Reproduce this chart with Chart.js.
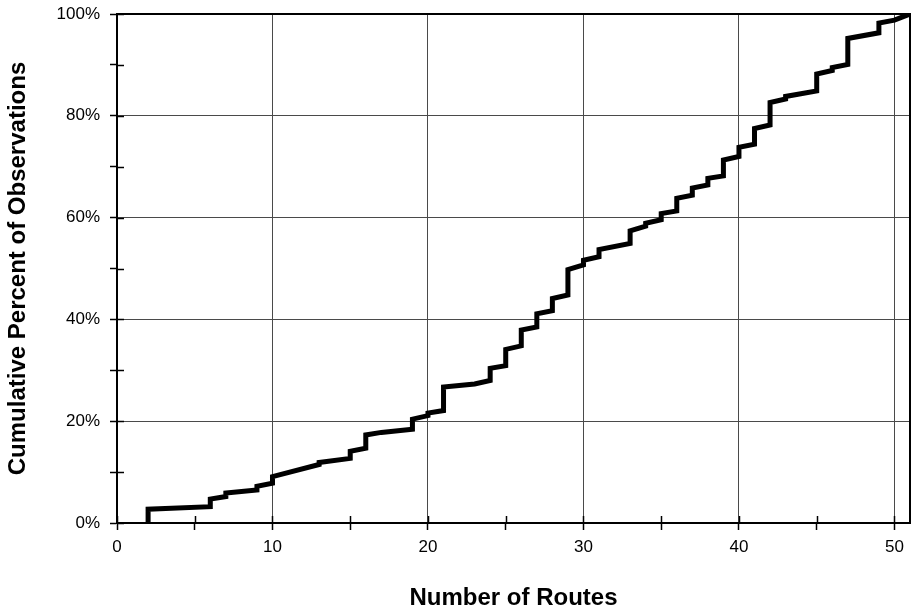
<!DOCTYPE html>
<html>
<head>
<meta charset="utf-8">
<script src="https://cdn.jsdelivr.net/npm/chart.js@4"></script>
<style>
  body { margin: 0; background: #fff; }
  #wrap { width: 916px; height: 614px; position: relative; }
</style>
</head>
<body>
<div id="wrap"><canvas id="chart"></canvas></div>
<script>
// vertices of the cumulative curve
const routes = [2, 2, 6, 6, 7, 7, 9, 9, 10, 10, 13, 13, 15, 15, 16, 16, 17, 19, 19, 20, 20, 21, 21, 23,
  24, 24, 25, 25, 26, 26, 27, 27, 28, 28, 29, 29, 30, 30, 31, 31, 33, 33, 34, 34, 35, 35, 36, 36,
  37, 37, 38, 38, 39, 39, 40, 40, 41, 41, 42, 42, 43, 43, 45, 45, 46, 46, 47, 47, 49, 49, 50, 51];
const cumulativePct = [0, 2.7, 3.2, 4.7, 5.2, 5.9, 6.5, 7.2, 7.8, 9.1, 11.5, 11.9, 12.7, 14.1, 14.7, 17.3, 17.8, 18.4, 20.4, 21.1, 21.6, 22.1, 26.7, 27.3,
  28.0, 30.4, 30.9, 34.1, 34.8, 37.9, 38.5, 41.1, 41.7, 44.1, 44.8, 49.8, 50.7, 51.6, 52.3, 53.7, 54.9, 57.4, 58.3, 58.9, 59.6, 60.8, 61.3, 63.8,
  64.4, 65.8, 66.4, 67.7, 68.2, 71.3, 72.0, 73.8, 74.4, 77.5, 78.2, 82.6, 83.3, 83.8, 84.9, 88.2, 88.9, 89.5, 90.1, 95.2, 96.3, 98.2, 98.8, 100];

const xTitle = 'Number of Routes';
const yTitle = 'Cumulative Percent of Observations';

const points = routes.map((r, i) => ({ x: r, y: cumulativePct[i] }));

// frame on top/right plus the inner half of each tick mark
const framePlugin = {
  id: 'frame',
  beforeDatasetsDraw(chart) {
    const { ctx, chartArea: a, scales } = chart;
    ctx.save();
    ctx.strokeStyle = '#000';
    ctx.lineWidth = 2;
    ctx.beginPath();
    ctx.moveTo(a.left, a.top);
    ctx.lineTo(a.right, a.top);
    ctx.lineTo(a.right, a.bottom);
    ctx.stroke();

    ctx.lineWidth = 1.5;
    ctx.beginPath();
    scales.x.ticks.forEach(t => {
      const px = Math.round(scales.x.getPixelForValue(t.value)) + 0.5;
      ctx.moveTo(px, a.bottom);
      ctx.lineTo(px, a.bottom - 7);
    });
    scales.y.ticks.forEach(t => {
      const py = Math.round(scales.y.getPixelForValue(t.value)) + 0.5;
      ctx.moveTo(a.left, py);
      ctx.lineTo(a.left + 7, py);
    });
    ctx.stroke();
    ctx.restore();
  }
};

Chart.defaults.font.family = "'Liberation Sans', Arial, sans-serif";
Chart.defaults.color = '#000';

new Chart(document.getElementById('chart'), {
  type: 'scatter',
  data: {
    datasets: [{
      data: points,
      showLine: true,
      borderColor: '#000',
      borderWidth: 5,
      borderJoinStyle: 'miter',
      pointRadius: 0,
      pointHoverRadius: 0,
      tension: 0,
    }]
  },
  options: {
    responsive: true,
    maintainAspectRatio: false,
    animation: false,
    layout: { padding: { top: 14, right: 6, left: 0, bottom: 0 } },
    plugins: {
      legend: { display: false },
      tooltip: { enabled: false },
    },
    scales: {
      x: {
        type: 'linear',
        min: 0,
        max: 51,
        afterFit(scale) {
          scale.height = 91;
          scale.paddingLeft = 0;
          scale.paddingRight = 0;
        },
        ticks: {
          stepSize: 5,
          includeBounds: false,
          padding: 7,
          font: { size: 17 },
          maxRotation: 0,
          callback: v => (v % 10 === 0 ? String(v) : ''),
        },
        grid: {
          color: ctx => (ctx.tick && ctx.tick.value % 10 === 0 && ctx.tick.value > 0 ? '#4a4a4a' : 'rgba(0,0,0,0)'),
          tickColor: '#000',
          tickLength: 7,
          tickWidth: 1.5,
          lineWidth: 1,
        },
        border: { color: '#000', width: 2 },
        title: {
          display: true,
          text: xTitle,
          font: { size: 24, weight: 'bold' },
          padding: { top: 0, bottom: 1 },
        },
      },
      y: {
        min: 0,
        max: 100,
        afterFit(scale) {
          scale.width = 117;
          scale.paddingTop = 0;
          scale.paddingBottom = 0;
        },
        ticks: {
          stepSize: 10,
          padding: 10,
          font: { size: 17 },
          callback: v => (v % 20 === 0 ? v + '%' : ''),
        },
        grid: {
          color: ctx => (ctx.tick && ctx.tick.value % 20 === 0 && ctx.tick.value > 0 ? '#4a4a4a' : 'rgba(0,0,0,0)'),
          tickColor: '#000',
          tickLength: 7,
          tickWidth: 1.5,
          lineWidth: 1,
        },
        border: { color: '#000', width: 2 },
        title: {
          display: true,
          text: yTitle,
          font: { size: 24, weight: 'bold' },
          padding: { top: 4, bottom: 0 },
        },
      },
    },
  },
  plugins: [framePlugin],
});
</script>
</body>
</html>
